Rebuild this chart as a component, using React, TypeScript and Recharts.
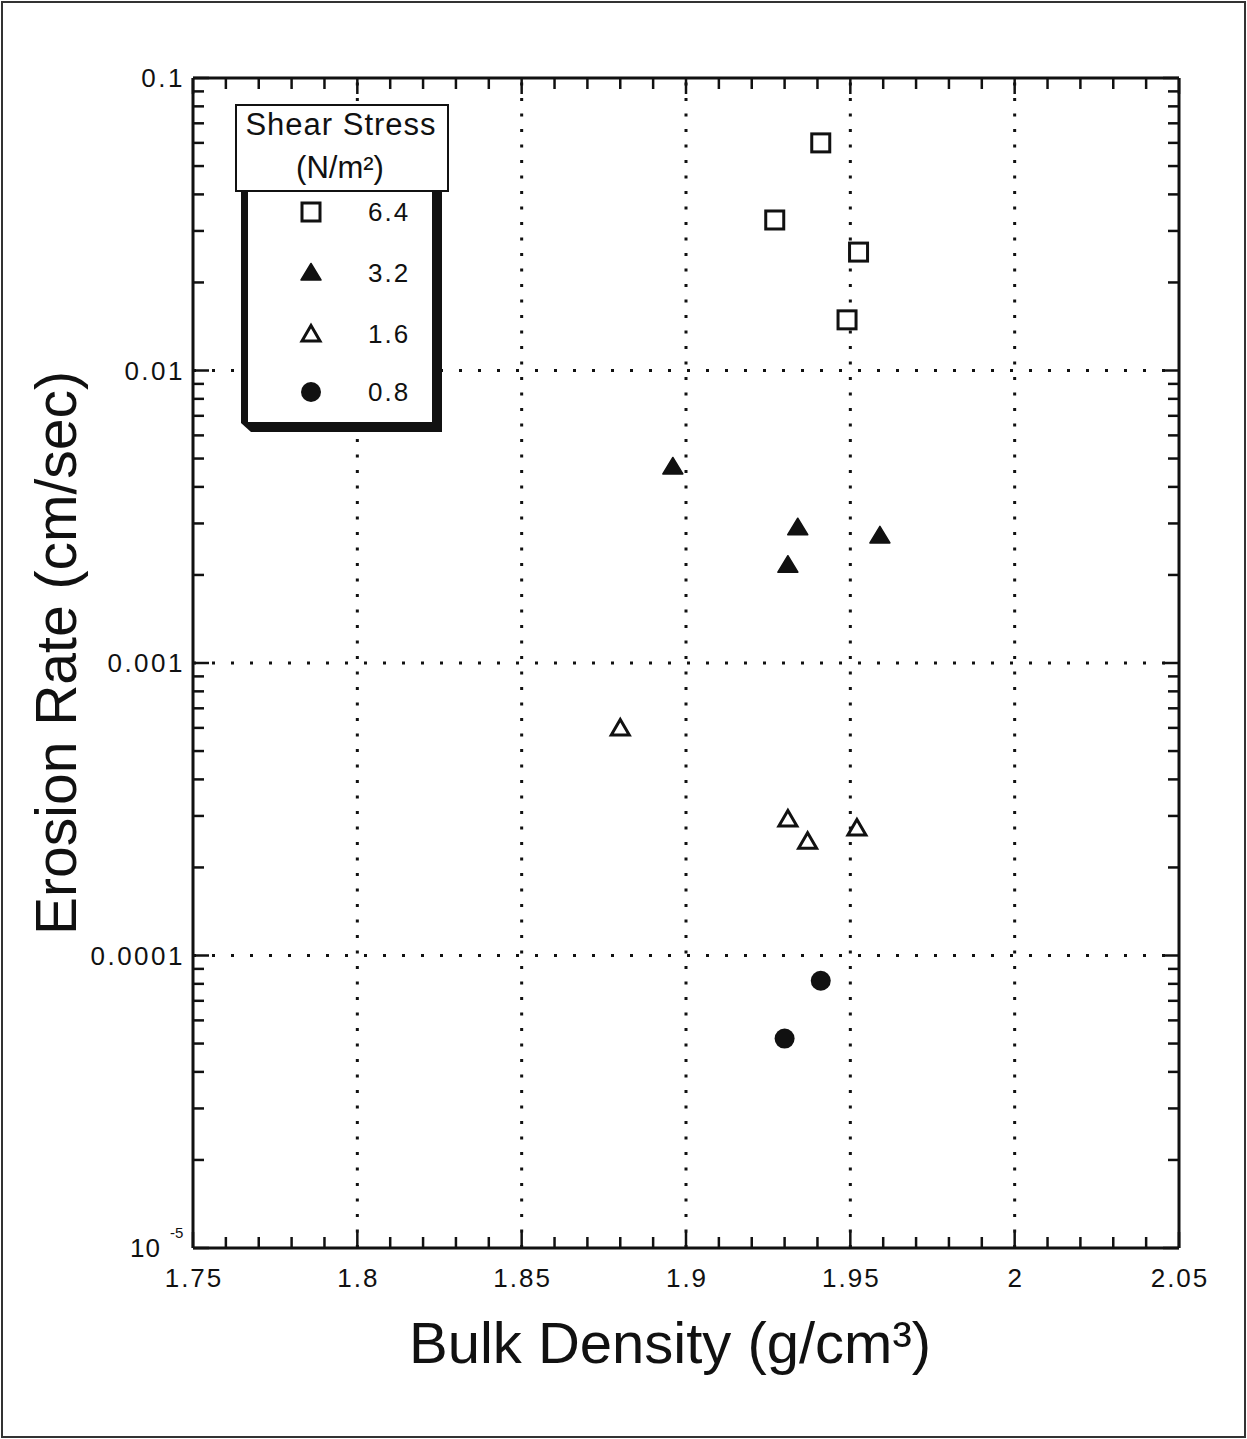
import React from 'react';
import { ScatterChart, Scatter, XAxis, YAxis, ReferenceLine, Legend } from 'recharts';

const W = 1247;
const H = 1439;
const FONT = '"Liberation Sans", Arial, Helvetica, sans-serif';
const INK = '#111';

// ---- data ----
const seriesLabels = ['6.4', '3.2', '1.6', '0.8'];
const density64 = [1.941, 1.927, 1.9525, 1.949];
const rate64 = [0.06, 0.0327, 0.0254, 0.0149];
const density32 = [1.896, 1.934, 1.931, 1.959];
const rate32 = [0.00468, 0.0029, 0.00216, 0.00272];
const density16 = [1.88, 1.931, 1.937, 1.952];
const rate16 = [0.0006, 0.000293, 0.000246, 0.000273];
const density08 = [1.941, 1.93];
const rate08 = [8.2e-5, 5.2e-5];

// ---- ticks ----
const xMajorTicks = [1.75, 1.8, 1.85, 1.9, 1.95, 2.0, 2.05];
const xTickLabels = ['1.75', '1.8', '1.85', '1.9', '1.95', '2', '2.05'];
const xMinorTicks = [
  1.76, 1.77, 1.78, 1.79, 1.81, 1.82, 1.83, 1.84, 1.86, 1.87, 1.88, 1.89,
  1.91, 1.92, 1.93, 1.94, 1.96, 1.97, 1.98, 1.99, 2.01, 2.02, 2.03, 2.04,
];
const yDecades = [1e-5, 1e-4, 1e-3, 1e-2, 1e-1];
const yTickLabels = ['10', '0.0001', '0.001', '0.01', '0.1'];
const yMinorMantissas = [2, 3, 4, 5, 6, 7, 8, 9];
const xGridValues = [1.8, 1.85, 1.9, 1.95, 2.0];
const yGridValues = [1e-4, 1e-3, 1e-2];

const xTicks = [...xMajorTicks, ...xMinorTicks].sort((a, b) => a - b);
const yTicks: number[] = [];
yDecades.forEach((d, i) => {
  yTicks.push(d);
  if (i < yDecades.length - 1) yMinorMantissas.forEach((m) => yTicks.push(d * m));
});

const toPoints = (xs: number[], ys: number[]) => xs.map((x, i) => ({ x, y: ys[i] }));
const data64 = toPoints(density64, rate64);
const data32 = toPoints(density32, rate32);
const data16 = toPoints(density16, rate16);
const data08 = toPoints(density08, rate08);

const majorXIndex = (v: number) => xMajorTicks.findIndex((t) => Math.abs(t - v) < 1e-9);
const majorYIndex = (v: number) => yDecades.findIndex((t) => Math.abs(Math.log10(t) - Math.log10(v)) < 1e-6);

const MAJOR = 16;
const MINOR = 11;
const TW = 2.5;
const TICK_FS = 26;

// ---- marker shapes ----
const drawSquare = (cx: number, cy: number) => (
  <rect x={cx - 9} y={cy - 9} width={18} height={18} fill="#fff" stroke={INK} strokeWidth={3} />
);
const drawFilledTri = (cx: number, cy: number) => (
  <polygon points={`${cx},${cy - 9.5} ${cx + 10},${cy + 7} ${cx - 10},${cy + 7}`} fill={INK} stroke={INK} strokeWidth={1.5} strokeLinejoin="round" />
);
const drawOpenTri = (cx: number, cy: number) => (
  <polygon points={`${cx},${cy - 8.5} ${cx + 9},${cy + 7} ${cx - 9},${cy + 7}`} fill="#fff" stroke={INK} strokeWidth={3} strokeLinejoin="miter" />
);
const drawCircle = (cx: number, cy: number) => <circle cx={cx} cy={cy} r={10} fill={INK} />;
const drawers = [drawSquare, drawFilledTri, drawOpenTri, drawCircle];

const shapeOf = (i: number) => (props: any) => <g>{drawers[i](props.cx, props.cy)}</g>;

// ---- axis ticks ----
const BottomTick = (props: any) => {
  const { x, y, payload } = props;
  const mi = majorXIndex(payload.value);
  const major = mi >= 0;
  return (
    <g>
      <line x1={x} x2={x} y1={y} y2={y - (major ? MAJOR : MINOR)} stroke={INK} strokeWidth={TW} />
      {major && (
        <text x={x + 1} y={y + 39} textAnchor="middle" fontFamily={FONT} fontSize={TICK_FS} letterSpacing={2} fill={INK}>
          {xTickLabels[mi]}
        </text>
      )}
    </g>
  );
};
const TopTick = (props: any) => {
  const { x, y, payload } = props;
  const major = majorXIndex(payload.value) >= 0;
  return <line x1={x} x2={x} y1={y} y2={y + (major ? MAJOR : MINOR)} stroke={INK} strokeWidth={TW} />;
};
const LeftTick = (props: any) => {
  const { x, y, payload } = props;
  const mi = majorYIndex(payload.value);
  const major = mi >= 0;
  return (
    <g>
      <line x1={x} x2={x + (major ? MAJOR : MINOR)} y1={y} y2={y} stroke={INK} strokeWidth={TW} />
      {major && mi > 0 && (
        <text x={x - 8} y={y + 9} textAnchor="end" fontFamily={FONT} fontSize={TICK_FS} letterSpacing={2.5} fill={INK}>
          {yTickLabels[mi]}
        </text>
      )}
      {major && mi === 0 && (
        <g>
          <text x={x - 32} y={y + 9} textAnchor="end" fontFamily={FONT} fontSize={TICK_FS} letterSpacing={1} fill={INK}>
            {yTickLabels[mi]}
          </text>
          <text x={x - 23} y={y - 10} textAnchor="start" fontFamily={FONT} fontSize={15} fill={INK}>
            -5
          </text>
        </g>
      )}
    </g>
  );
};
const RightTick = (props: any) => {
  const { x, y, payload } = props;
  const major = majorYIndex(payload.value) >= 0;
  return <line x1={x} x2={x - (major ? MAJOR : MINOR)} y1={y} y2={y} stroke={INK} strokeWidth={TW} />;
};

// ---- legend ----
const LegendBox = () => {
  const rows = [112, 173, 234, 292];
  return (
    <svg width={224} height={340} style={{ display: 'block' }}>
      <polygon points="11,91 212,91 212,332 21,332 11,323" fill={INK} />
      <rect x={18} y={91} width={184} height={231} fill="#fff" />
      <rect x={6} y={5} width={212} height={86} fill="#fff" stroke={INK} strokeWidth={2} />
      <text x={111} y={35} textAnchor="middle" fontFamily={FONT} fontSize={31} letterSpacing={1} fill={INK}>
        Shear Stress
      </text>
      <text x={110} y={78} textAnchor="middle" fontFamily={FONT} fontSize={31} fill={INK}>
        (N/m²)
      </text>
      {seriesLabels.map((lab, i) => (
        <g key={lab}>
          {drawers[i](81, rows[i])}
          <text x={138} y={rows[i] + 9} fontFamily={FONT} fontSize={TICK_FS} letterSpacing={2} fill={INK}>
            {lab}
          </text>
        </g>
      ))}
    </svg>
  );
};

const XTitle = (props: any) => {
  const vb = props.viewBox || { x: 193, y: 1248, width: 985, height: 60 };
  return (
    <text x={vb.x + vb.width / 2 - 16} y={vb.y + 115} textAnchor="middle" fontFamily={FONT} fontSize={58} fill={INK}>
      Bulk Density (g/cm³)
    </text>
  );
};
const YTitle = (props: any) => {
  const vb = props.viewBox || { x: 73, y: 78, width: 120, height: 1170 };
  const cx = vb.x + 3;
  const cy = vb.y + vb.height / 2 - 10;
  return (
    <text x={cx} y={cy} transform={`rotate(-90 ${cx} ${cy})`} textAnchor="middle" fontFamily={FONT} fontSize={57} fill={INK}>
      Erosion Rate (cm/sec)
    </text>
  );
};

export default function App() {
  return (
    <div style={{ position: 'absolute', left: 0, top: 0, width: W, height: H, background: '#fff' }}>
      <div
        style={{
          position: 'absolute',
          left: 1,
          top: 1,
          width: W - 2,
          height: H - 2,
          border: '2px solid #333',
          boxSizing: 'border-box',
        }}
      />
      <div style={{ position: 'absolute', left: 0, top: 0 }}>
        <ScatterChart width={W} height={H} margin={{ top: 68, right: 58, bottom: 131, left: 73 }}>
          <XAxis
            xAxisId="b"
            dataKey="x"
            type="number"
            domain={[1.75, 2.05]}
            ticks={xTicks}
            interval={0}
            allowDataOverflow
            orientation="bottom"
            height={60}
            tickSize={0}
            tickMargin={0}
            tickLine={false}
            axisLine={{ stroke: INK, strokeWidth: 3 }}
            tick={<BottomTick />}
            label={<XTitle />}
          />
          <XAxis
            xAxisId="t"
            dataKey="x"
            type="number"
            domain={[1.75, 2.05]}
            ticks={xTicks}
            interval={0}
            allowDataOverflow
            orientation="top"
            height={10}
            tickSize={0}
            tickMargin={0}
            tickLine={false}
            axisLine={{ stroke: INK, strokeWidth: 3 }}
            tick={<TopTick />}
          />
          <YAxis
            yAxisId="l"
            dataKey="y"
            type="number"
            scale="log"
            domain={[1e-5, 0.1]}
            ticks={yTicks}
            interval={0}
            allowDataOverflow
            orientation="left"
            width={120}
            tickSize={0}
            tickMargin={0}
            tickLine={false}
            axisLine={{ stroke: INK, strokeWidth: 3 }}
            tick={<LeftTick />}
            label={<YTitle />}
          />
          <YAxis
            yAxisId="r"
            dataKey="y"
            type="number"
            scale="log"
            domain={[1e-5, 0.1]}
            ticks={yTicks}
            interval={0}
            allowDataOverflow
            orientation="right"
            width={10}
            tickSize={0}
            tickMargin={0}
            tickLine={false}
            axisLine={{ stroke: INK, strokeWidth: 3 }}
            tick={<RightTick />}
          />
          {xGridValues.map((v) => (
            <ReferenceLine key={'gx' + v} x={v} xAxisId="b" yAxisId="l" stroke={INK} strokeWidth={3} strokeDasharray="3 12.5" />
          ))}
          {yGridValues.map((v) => (
            <ReferenceLine key={'gy' + v} y={v} xAxisId="b" yAxisId="l" stroke={INK} strokeWidth={3} strokeDasharray="3 16" />
          ))}
          <Legend
            layout="horizontal"
            verticalAlign="middle"
            align="center"
            wrapperStyle={{ position: 'absolute', left: 230, top: 100, width: 224, height: 340 }}
            content={() => <LegendBox />}
          />
          <Scatter name={seriesLabels[0]} data={data64} xAxisId="b" yAxisId="l" shape={shapeOf(0)} isAnimationActive={false} />
          <Scatter name={seriesLabels[1]} data={data32} xAxisId="b" yAxisId="l" shape={shapeOf(1)} isAnimationActive={false} />
          <Scatter name={seriesLabels[2]} data={data16} xAxisId="b" yAxisId="l" shape={shapeOf(2)} isAnimationActive={false} />
          <Scatter name={seriesLabels[3]} data={data08} xAxisId="b" yAxisId="l" shape={shapeOf(3)} isAnimationActive={false} />
          <Scatter data={[]} xAxisId="t" yAxisId="r" isAnimationActive={false} legendType="none" />
        </ScatterChart>
      </div>
    </div>
  );
}
